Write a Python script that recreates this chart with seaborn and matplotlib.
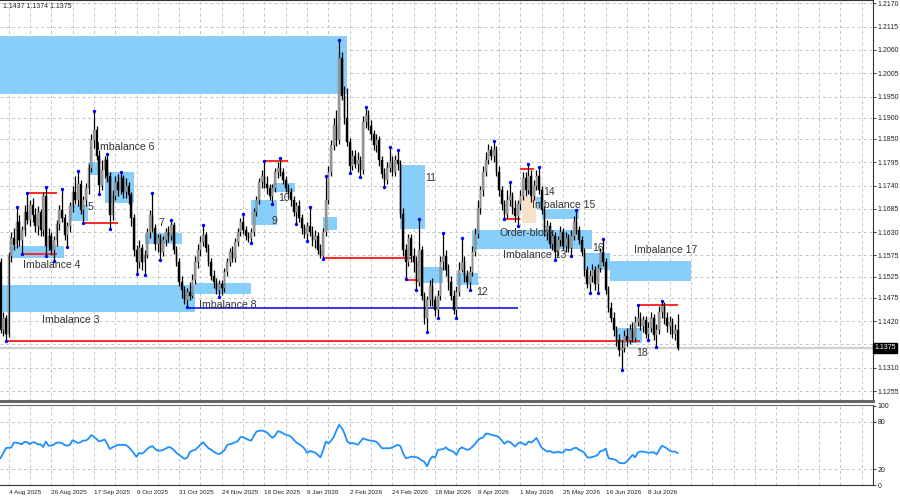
import numpy as np
import pandas as pd
import matplotlib
matplotlib.use("Agg")
import matplotlib.pyplot as plt
import matplotlib.transforms as mtransforms
from matplotlib.patches import Rectangle
import seaborn as sns

# ---------------- data ----------------
first_open = 1.1559
closes = [
    1.1399, 1.1427, 1.1390, 1.1574, 1.1616, 1.1600, 1.1654, 1.1612, 1.1635, 1.1677,
    1.1659, 1.1694, 1.1670, 1.1645, 1.1677, 1.1635, 1.1716, 1.1598, 1.1621, 1.1588,
    1.1612, 1.1650, 1.1682, 1.1663, 1.1623, 1.1645, 1.1692, 1.1725, 1.1706, 1.1744,
    1.1682, 1.1706, 1.1734, 1.1781, 1.1848, 1.1871, 1.1810, 1.1741, 1.1777, 1.1800,
    1.1763, 1.1670, 1.1716, 1.1748, 1.1730, 1.1758, 1.1725, 1.1739, 1.1718, 1.1663,
    1.1588, 1.1559, 1.1593, 1.1559, 1.1576, 1.1630, 1.1670, 1.1640, 1.1603, 1.1616,
    1.1583, 1.1612, 1.1630, 1.1621, 1.1647, 1.1588, 1.1559, 1.1512, 1.1494, 1.1470,
    1.1489, 1.1479, 1.1517, 1.1559, 1.1588, 1.1607, 1.1623, 1.1593, 1.1559, 1.1527,
    1.1512, 1.1494, 1.1508, 1.1498, 1.1536, 1.1559, 1.1583, 1.1569, 1.1607, 1.1630,
    1.1654, 1.1635, 1.1621, 1.1616, 1.1630, 1.1677, 1.1706, 1.1748, 1.1763, 1.1744,
    1.1734, 1.1716, 1.1734, 1.1772, 1.1781, 1.1772, 1.1753, 1.1734, 1.1725, 1.1706,
    1.1677, 1.1692, 1.1663, 1.1640, 1.1626, 1.1645, 1.1630, 1.1612, 1.1621, 1.1588,
    1.1574, 1.1630, 1.1706, 1.1772, 1.1836, 1.1883, 1.1848, 1.2041, 1.1951, 1.1900,
    1.1843, 1.1786, 1.1810, 1.1791, 1.1800, 1.1777, 1.1890, 1.1907, 1.1881, 1.1862,
    1.1836, 1.1848, 1.1800, 1.1767, 1.1753, 1.1781, 1.1795, 1.1772, 1.1800, 1.1791,
    1.1673, 1.1588, 1.1559, 1.1616, 1.1574, 1.1559, 1.1512, 1.1588, 1.1479, 1.1427,
    1.1470, 1.1503, 1.1470, 1.1446, 1.1479, 1.1559, 1.1574, 1.1541, 1.1512, 1.1479,
    1.1446, 1.1489, 1.1541, 1.1559, 1.1527, 1.1512, 1.1536, 1.1583, 1.1626, 1.1687,
    1.1730, 1.1772, 1.1800, 1.1824, 1.1810, 1.1824, 1.1772, 1.1730, 1.1697, 1.1673,
    1.1706, 1.1716, 1.1687, 1.1668, 1.1697, 1.1716, 1.1758, 1.1730, 1.1763, 1.1716,
    1.1739, 1.1763, 1.1730, 1.1682, 1.1630, 1.1645, 1.1603, 1.1621, 1.1583, 1.1612,
    1.1630, 1.1598, 1.1616, 1.1593, 1.1621, 1.1654, 1.1635, 1.1612, 1.1583, 1.1541,
    1.1508, 1.1527, 1.1541, 1.1508, 1.1545, 1.1583, 1.1559, 1.1494, 1.1451, 1.1427,
    1.1399, 1.1376, 1.1352, 1.1357, 1.1385, 1.1376, 1.1399, 1.1380, 1.1418, 1.1427,
    1.1409, 1.1423, 1.1390, 1.1404, 1.1427, 1.1388, 1.1399, 1.1442, 1.1456, 1.1427,
    1.1409, 1.1418, 1.1390, 1.1399, 1.1357,
]
highs = [
    1.1569, 1.1441, 1.1434, 1.1583, 1.1630, 1.1640, 1.1689, 1.1670, 1.1645, 1.1694,
    1.1723, 1.1706, 1.1711, 1.1687, 1.1692, 1.1685, 1.1725, 1.1736, 1.1640, 1.1630,
    1.1621, 1.1659, 1.1694, 1.1732, 1.1673, 1.1654, 1.1701, 1.1739, 1.1763, 1.1775,
    1.1753, 1.1716, 1.1746, 1.1791, 1.1862, 1.1916, 1.1881, 1.1824, 1.1800, 1.1810,
    1.1815, 1.1772, 1.1730, 1.1763, 1.1768, 1.1772, 1.1765, 1.1758, 1.1748, 1.1725,
    1.1673, 1.1600, 1.1612, 1.1603, 1.1588, 1.1640, 1.1682, 1.1723, 1.1650, 1.1626,
    1.1626, 1.1621, 1.1640, 1.1645, 1.1659, 1.1654, 1.1598, 1.1569, 1.1527, 1.1503,
    1.1498, 1.1512, 1.1532, 1.1574, 1.1603, 1.1621, 1.1647, 1.1630, 1.1603, 1.1569,
    1.1541, 1.1522, 1.1517, 1.1517, 1.1545, 1.1569, 1.1593, 1.1598, 1.1616, 1.1640,
    1.1663, 1.1673, 1.1645, 1.1630, 1.1640, 1.1687, 1.1716, 1.1758, 1.1777, 1.1798,
    1.1763, 1.1744, 1.1744, 1.1781, 1.1795, 1.1805, 1.1781, 1.1763, 1.1744, 1.1734,
    1.1716, 1.1701, 1.1706, 1.1673, 1.1650, 1.1654, 1.1689, 1.1645, 1.1635, 1.1630,
    1.1603, 1.1640, 1.1763, 1.1786, 1.1848, 1.1900, 1.1918, 1.2084, 1.2055, 1.1975,
    1.1970, 1.1853, 1.1824, 1.1824, 1.1819, 1.1810, 1.1904, 1.1926, 1.1918, 1.1895,
    1.1871, 1.1862, 1.1857, 1.1810, 1.1781, 1.1795, 1.1831, 1.1810, 1.1812, 1.1824,
    1.1800, 1.1687, 1.1603, 1.1626, 1.1626, 1.1593, 1.1574, 1.1661, 1.1598, 1.1489,
    1.1479, 1.1517, 1.1522, 1.1479, 1.1494, 1.1574, 1.1628, 1.1588, 1.1555, 1.1527,
    1.1494, 1.1503, 1.1559, 1.1616, 1.1574, 1.1541, 1.1550, 1.1598, 1.1640, 1.1706,
    1.1739, 1.1786, 1.1819, 1.1838, 1.1834, 1.1845, 1.1834, 1.1786, 1.1739, 1.1706,
    1.1730, 1.1748, 1.1725, 1.1706, 1.1706, 1.1730, 1.1772, 1.1772, 1.1791, 1.1777,
    1.1753, 1.1777, 1.1784, 1.1739, 1.1692, 1.1659, 1.1654, 1.1635, 1.1630, 1.1621,
    1.1645, 1.1640, 1.1630, 1.1626, 1.1635, 1.1668, 1.1682, 1.1645, 1.1621, 1.1593,
    1.1550, 1.1541, 1.1555, 1.1550, 1.1555, 1.1593, 1.1614, 1.1569, 1.1503, 1.1465,
    1.1442, 1.1409, 1.1390, 1.1376, 1.1399, 1.1404, 1.1413, 1.1418, 1.1432, 1.1458,
    1.1442, 1.1432, 1.1432, 1.1418, 1.1442, 1.1437, 1.1413, 1.1456, 1.1468, 1.1465,
    1.1442, 1.1432, 1.1427, 1.1413, 1.1437,
]
lows = [
    1.1392, 1.1385, 1.1374, 1.1382, 1.1559, 1.1588, 1.1593, 1.1598, 1.1579, 1.1621,
    1.1650, 1.1645, 1.1654, 1.1630, 1.1623, 1.1621, 1.1621, 1.1574, 1.1588, 1.1576,
    1.1562, 1.1598, 1.1635, 1.1654, 1.1612, 1.1595, 1.1630, 1.1677, 1.1697, 1.1692,
    1.1673, 1.1652, 1.1692, 1.1721, 1.1772, 1.1829, 1.1800, 1.1721, 1.1730, 1.1758,
    1.1748, 1.1638, 1.1659, 1.1706, 1.1716, 1.1721, 1.1711, 1.1711, 1.1697, 1.1645,
    1.1574, 1.1532, 1.1545, 1.1541, 1.1529, 1.1569, 1.1616, 1.1630, 1.1588, 1.1583,
    1.1564, 1.1574, 1.1598, 1.1607, 1.1612, 1.1579, 1.1550, 1.1503, 1.1475, 1.1461,
    1.1453, 1.1470, 1.1475, 1.1508, 1.1545, 1.1574, 1.1598, 1.1583, 1.1550, 1.1517,
    1.1498, 1.1484, 1.1477, 1.1482, 1.1489, 1.1527, 1.1550, 1.1559, 1.1559, 1.1598,
    1.1621, 1.1626, 1.1612, 1.1607, 1.1605, 1.1621, 1.1668, 1.1697, 1.1734, 1.1734,
    1.1721, 1.1706, 1.1697, 1.1725, 1.1758, 1.1763, 1.1744, 1.1725, 1.1711, 1.1692,
    1.1668, 1.1650, 1.1654, 1.1626, 1.1616, 1.1610, 1.1621, 1.1598, 1.1593, 1.1579,
    1.1569, 1.1567, 1.1621, 1.1697, 1.1763, 1.1824, 1.1834, 1.1838, 1.1942, 1.1886,
    1.1834, 1.1770, 1.1777, 1.1781, 1.1772, 1.1760, 1.1768, 1.1876, 1.1871, 1.1848,
    1.1824, 1.1819, 1.1786, 1.1758, 1.1737, 1.1744, 1.1772, 1.1763, 1.1763, 1.1777,
    1.1663, 1.1574, 1.1519, 1.1550, 1.1559, 1.1536, 1.1494, 1.1503, 1.1470, 1.1413,
    1.1395, 1.1456, 1.1456, 1.1432, 1.1427, 1.1470, 1.1541, 1.1527, 1.1494, 1.1470,
    1.1437, 1.1428, 1.1479, 1.1536, 1.1512, 1.1498, 1.1494, 1.1527, 1.1574, 1.1616,
    1.1673, 1.1716, 1.1763, 1.1791, 1.1800, 1.1795, 1.1763, 1.1716, 1.1682, 1.1661,
    1.1663, 1.1692, 1.1673, 1.1654, 1.1645, 1.1682, 1.1706, 1.1716, 1.1721, 1.1701,
    1.1706, 1.1730, 1.1721, 1.1673, 1.1621, 1.1612, 1.1593, 1.1588, 1.1564, 1.1574,
    1.1598, 1.1588, 1.1583, 1.1583, 1.1574, 1.1612, 1.1626, 1.1603, 1.1574, 1.1527,
    1.1498, 1.1487, 1.1512, 1.1494, 1.1487, 1.1536, 1.1550, 1.1484, 1.1442, 1.1418,
    1.1385, 1.1361, 1.1338, 1.1305, 1.1348, 1.1361, 1.1366, 1.1371, 1.1371, 1.1409,
    1.1399, 1.1395, 1.1380, 1.1376, 1.1395, 1.1376, 1.1359, 1.1390, 1.1427, 1.1413,
    1.1395, 1.1390, 1.1380, 1.1376, 1.1352,
]
rsi = [
    33.8, 40, 46.4, 47.2, 47.2, 53.5, 53.5, 52.5, 51.5, 54.5,
    54, 51.5, 54, 53.5, 51.4, 51.4, 48, 54.8, 49.7, 49.7,
    51, 53.5, 53.5, 53, 50.5, 49.7, 50.5, 56.5, 55, 53,
    54, 56.1, 56.1, 58.5, 63, 61, 58, 55, 56, 57.7,
    52, 45.5, 47.5, 49, 50.6, 50.6, 50.6, 50.6, 48, 44.5,
    40, 35.5, 40.5, 39.5, 42, 45.5, 48, 49, 45.5, 43.2,
    43.5, 44.3, 46, 48, 47, 44.2, 40.5, 38, 35.5, 33,
    34.5, 41.5, 43.5, 44.3, 47.5, 51, 54, 50, 46.5, 44.5,
    42, 40, 39, 41, 44, 50.5, 51.5, 52.5, 54, 55.5,
    60.5, 60.5, 58.5, 57, 56, 62, 67.4, 68.5, 68.7, 68,
    66, 62.5, 59.5, 62.5, 68, 67, 65.3, 63.5, 62.5, 61,
    57, 53.5, 51.5, 49, 46, 40.5, 43, 42, 40.9, 38,
    35, 44, 54.8, 52.5, 56, 61, 69, 76, 72, 65,
    55, 52.5, 53, 52, 50.8, 55, 59, 57.5, 56.5, 56,
    55.5, 54.5, 51, 46.4, 46.4, 46.4, 46.4, 47.5, 49.5, 50.6,
    49, 40, 33.8, 34.5, 35.9, 35.5, 35, 33.5, 31, 29,
    23.5, 32, 36, 34.5, 44, 45, 45.1, 47.6, 44.5, 43.4,
    41.5, 38, 45, 47.6, 46, 44.3, 45.5, 48.5, 52, 56.5,
    59, 60, 65, 64.5, 63.5, 62.5, 62, 60, 56, 52,
    55, 54.5, 51.5, 48.5, 52.5, 54, 52, 50.6, 54.8, 53.5,
    56, 59.5, 53, 47, 44.5, 42.2, 43, 41, 41, 42,
    41, 41, 45, 44.3, 44.3, 46.5, 47, 44.3, 43, 40.5,
    35, 34.5, 35.5, 36.5, 38, 43, 43.4, 46, 34, 33,
    32.5, 31, 28, 27.5, 27.5, 30, 34, 38, 35, 41,
    42.2, 42.2, 41.5, 40.5, 41.3, 41.3, 38.5, 44, 49.5, 48,
    46, 43, 42.2, 42.2, 40,
]

fractal_high_bars = [6, 10, 17, 23, 29, 35, 40, 45, 57, 64, 76, 91, 99, 105, 116, 122,
                     127, 137, 146, 149, 157, 166, 173, 185, 191, 198, 202, 216, 226,
                     239, 248]
fractal_low_bars = [2, 8, 17, 20, 25, 31, 37, 41, 51, 54, 60, 70, 82, 94, 102, 111, 115,
                    121, 131, 135, 144, 152, 156, 160, 164, 171, 176, 189, 194, 208,
                    214, 221, 224, 233, 243, 246]

# imbalance zones: (start bar, end bar, low price, high price)
imbalance_zones = [
    (-1, 130, 1.1956, 1.2093),
    (-1, 73, 1.1442, 1.1505),
    (4.2, 23.8, 1.1568, 1.1597),
    (26, 32.9, 1.1657, 1.1694),
    (32.9, 37.3, 1.1765, 1.1796),
    (39.2, 50, 1.1700, 1.1773),
    (54.2, 67.9, 1.1601, 1.1629),
    (72.9, 93.8, 1.1483, 1.1511),
    (93.8, 103.8, 1.1647, 1.1706),
    (102.2, 110.4, 1.1726, 1.1746),
    (120.9, 126.2, 1.1635, 1.1667),
    (150, 159.2, 1.1638, 1.1789),
    (158.3, 166, 1.1510, 1.1548),
    (171, 179.2, 1.1505, 1.1534),
    (177, 222, 1.1590, 1.1635),
    (197.3, 203, 1.1685, 1.1713),
    (203, 217, 1.1661, 1.1685),
    (219.2, 228.5, 1.1541, 1.1582),
    (228.5, 258.8, 1.1515, 1.1562),
    (231, 240.4, 1.1369, 1.1404),
]
order_block_zone = (195.4, 200.8, 1.1651, 1.1714)

zone_labels = ["Imbalance 3", "Imbalance 4", "5", "Imbalance 6", "7", "Imbalance 8",
               "9", "10", "11", "12", "Order-block", "Imbalance 13", "14",
               "Imbalance 15", "16", "Imbalance 17", "18"]
label_bars = [15.6, 8.4, 32.8, 36.2, 59.4, 74.4, 101.8, 104, 159.2, 178.3, 187,
              188.3, 203.4, 199.2, 222, 237.5, 238.5]
label_prices = [1.1423, 1.1553, 1.1689, 1.1830, 1.1651, 1.1458, 1.1657, 1.1711, 1.1759,
                1.1490, 1.1628, 1.1575, 1.1725, 1.1694, 1.1593, 1.1588, 1.1346]

# horizontal levels: (start bar, end bar, price)
red_levels = [(10, 21, 1.1722), (8, 21, 1.1578), (31, 44, 1.1652), (99, 108, 1.1798),
              (121, 154, 1.1568), (152, 157, 1.1517), (189, 195, 1.1660),
              (195, 200, 1.1779), (239, 254, 1.1457), (2, 240, 1.1373)]
blue_levels = [(70, 194, 1.1450)]

price_ticks = [1.2170, 1.2115, 1.2060, 1.2005, 1.1950, 1.1900, 1.1850, 1.1795, 1.1740,
               1.1685, 1.1630, 1.1575, 1.1525, 1.1475, 1.1420, 1.1365, 1.1310, 1.1255]
# the 1.1365 label sits under the current-price marker in the reference
price_tick_labels = ["1.2170", "1.2115", "1.2060", "1.2005", "1.1950", "1.1900", "1.1850",
                     "1.1795", "1.1740", "1.1685", "1.1630", "1.1575", "1.1525", "1.1475",
                     "1.1420", "", "1.1310", "1.1255"]
date_labels = ["4 Aug 2025", "26 Aug 2025", "17 Sep 2025", "9 Oct 2025", "31 Oct 2025",
               "24 Nov 2025", "16 Dec 2025", "9 Jan 2026", "2 Feb 2026", "24 Feb 2026",
               "18 Mar 2026", "9 Apr 2026", "1 May 2026", "25 May 2026", "16 Jun 2026",
               "8 Jul 2026"]
osc_ticks = [0, 20, 80, 100]
osc_tick_labels = ["0", "20", "80", "100"]
header_text = "1.1437 1.1374 1.1375"
last_price_text = "1.1375"

# ---------------- style ----------------
sns.set_style("white")
plt.rcParams["font.family"] = ["Liberation Sans", "DejaVu Sans"]

n = len(closes)
idx = np.arange(n)
closes_a = np.array(closes)
opens_a = np.array([first_open] + closes[:-1])
highs_a = np.array(highs)
lows_a = np.array(lows)

W, H = 900, 500
fig = plt.figure(figsize=(9, 5), dpi=100)
ax = fig.add_axes([0, 1 - 401 / H, 873 / W, 401 / H])
ax2 = fig.add_axes([0, 1 - 485 / H, 873 / W, 80 / H])

xmin, xmax = -0.19, 327.2
grid_c = "#c4c4c4"
tick_fs = 5.0
date_fs = 4.6

# ---- main price panel ----
ax.set_xlim(xmin, xmax)
ax.set_ylim(1.12316, 1.2178)

vgrid = np.arange(3, 327, 8)
for g in vgrid:
    ax.axvline(g, color=grid_c, lw=0.7, ls=(0, (3, 3)), zorder=0)
    ax2.axvline(g, color=grid_c, lw=0.7, ls=(0, (3, 3)), zorder=0)
for t in price_ticks:
    ax.axhline(t, color=grid_c, lw=0.7, ls=(0, (3, 3)), zorder=0)

zone_c = "#87cefa"
for (x0, x1, lo, hi) in imbalance_zones:
    ax.add_patch(Rectangle((x0, lo), x1 - x0, hi - lo, facecolor=zone_c,
                           edgecolor="none", zorder=1))
x0, x1, lo, hi = order_block_zone
ax.add_patch(Rectangle((x0, lo), x1 - x0, hi - lo, facecolor="#f6e2cb",
                       edgecolor="none", zorder=1.5))

ax.axhline(closes_a[-1], color="#cfcfcf", lw=1.6, zorder=1.2)

for (s, e, p) in red_levels:
    ax.hlines(p, s, e, color="#ff2a2a", lw=1.4, zorder=2)
for (s, e, p) in blue_levels:
    ax.hlines(p, s, e, color="#0000ee", lw=1.1, zorder=2)

# candles
bull = closes_a >= opens_a
ax.vlines(idx, lows_a, highs_a, color="black", lw=0.9, zorder=3)
body_bottom = np.minimum(opens_a, closes_a)
body_h = np.maximum(np.abs(closes_a - opens_a), 0.00006)
ax.bar(idx[bull], body_h[bull], bottom=body_bottom[bull], width=0.72,
       color="#9c9c9c", edgecolor="#7a7a7a", linewidth=0.3, zorder=4)
ax.bar(idx[~bull], body_h[~bull], bottom=body_bottom[~bull], width=0.72,
       color="black", edgecolor="black", linewidth=0.3, zorder=4)

ax.scatter(fractal_high_bars, highs_a[fractal_high_bars], s=6, color="#0000ff",
           zorder=5, linewidths=0)
ax.scatter(fractal_low_bars, lows_a[fractal_low_bars], s=6, color="#0000ff",
           zorder=5, linewidths=0)

for txt, b, p in zip(zone_labels, label_bars, label_prices):
    ax.text(b, p, txt, fontsize=7.6, color="#333333", ha="left", va="center", zorder=6)

ax.text(0.003, 0.985, header_text, transform=ax.transAxes, fontsize=tick_fs,
        color="#222222", ha="left", va="center")

ax.yaxis.tick_right()
ax.set_yticks(price_ticks)
ax.set_yticklabels(price_tick_labels, fontsize=tick_fs, color="#222222")
ax.tick_params(axis="y", length=2, width=0.6, pad=1.5, colors="#222222")
ax.set_xticks([])
ax.spines["left"].set_visible(False)
ax.spines["right"].set_color("#333333")
ax.spines["right"].set_linewidth(0.8)
ax.spines["top"].set_color("#333333")
ax.spines["top"].set_linewidth(0.8)
ax.spines["bottom"].set_color("#666666")
ax.spines["bottom"].set_linewidth(2.2)

trans = mtransforms.blended_transform_factory(ax.transAxes, ax.transData)
ax.text(1.002, closes_a[-1], last_price_text, transform=trans, fontsize=tick_fs,
        color="white", ha="left", va="center", zorder=10, clip_on=False,
        bbox=dict(facecolor="black", edgecolor="black", pad=0.9))

# ---- oscillator panel ----
ax2.set_xlim(xmin, xmax)
ax2.set_ylim(0, 101)
for lvl in [20, 80]:
    ax2.axhline(lvl, color=grid_c, lw=0.7, ls=(0, (3, 3)), zorder=0)
df = pd.DataFrame({"bar": idx, "rsi": rsi})
sns.lineplot(data=df, x="bar", y="rsi", ax=ax2, color="#1e90ff", lw=1.3)
ax2.set_xlabel("")
ax2.set_ylabel("")
ax2.yaxis.tick_right()
ax2.set_yticks(osc_ticks)
ax2.set_yticklabels(osc_tick_labels, fontsize=tick_fs, color="#222222")
ax2.tick_params(axis="y", length=2, width=0.6, pad=1.5, colors="#222222")
date_pos = [3 + 16 * k for k in range(len(date_labels))]
ax2.set_xticks(date_pos)
ax2.set_xticklabels(date_labels, fontsize=date_fs, color="#222222")
for lab in ax2.get_xticklabels():
    lab.set_horizontalalignment("left")
ax2.tick_params(axis="x", length=2, width=0.6, pad=1.5, colors="#222222")
ax2.spines["left"].set_visible(False)
ax2.spines["right"].set_color("#333333")
ax2.spines["right"].set_linewidth(0.8)
ax2.spines["bottom"].set_color("#333333")
ax2.spines["bottom"].set_linewidth(0.8)
ax2.spines["top"].set_color("#666666")
ax2.spines["top"].set_linewidth(0.8)

fig.savefig("out.png", dpi=100, facecolor="white")
